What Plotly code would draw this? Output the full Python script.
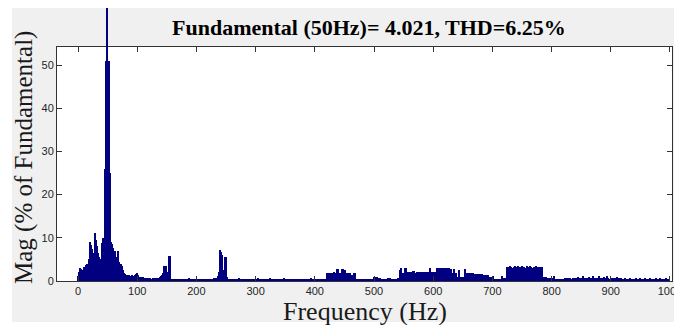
import plotly.graph_objects as go

# ---------------- data ----------------
freq_hz = list(range(0, 1000, 2))   # FFT bins (2 Hz spacing)
mag_pct = [
    1.2, 2.0, 3.0, 2.8, 2.5, 3.2, 3.3, 3.7, 4.0, 5.0,        # 0-18
    9.0, 8.3, 7.5, 6.5, 11.2, 9.5, 8.0, 6.5, 5.5, 5.0,       # 20-38
    8.8, 10.0, 7.0, 26.0, 51.0, 51.0, 51.0, 25.0, 9.0, 8.5,  # 40-58
    7.6, 7.0, 4.8, 5.5, 6.9, 4.5, 4.0, 3.5, 2.6, 1.8,        # 60-78
    1.6, 1.5, 1.4, 1.3, 1.2, 1.1, 1.3, 1.2, 1.4, 1.6,        # 80-98
    1.8, 1.4, 1.0, 0.9, 0.8, 1.0, 0.7, 0.8, 0.6, 0.7,        # 100-118
    0.6, 0.8, 0.5, 0.7, 0.6, 0.6, 0.5, 0.6, 0.8, 1.0,        # 120-138
    1.2, 1.5, 1.8, 3.5, 3.5, 2.2, 2.2, 5.8, 5.8, 0.5,        # 140-158
    0.4, 0.3, 0.4, 0.5, 0.3, 0.4, 0.3, 0.5, 0.4, 0.3,        # 160-178
    0.4, 0.5, 0.3, 0.4, 0.6, 0.4, 0.3, 0.4, 0.5, 0.3,        # 180-198
    0.3, 0.4, 0.5, 0.3, 0.4, 0.3, 0.5, 0.4, 0.3, 0.4,        # 200-218
    0.5, 0.4, 0.3, 0.5, 0.4, 0.6, 0.5, 0.8, 1.2, 2.0,        # 220-238
    7.2, 6.8, 6.0, 2.5, 5.5, 5.5, 1.0, 0.5, 0.4, 0.3,        # 240-258
    0.4, 0.3, 0.5, 0.4, 0.3, 0.4, 0.6, 0.4, 0.3, 0.4,        # 260-278
    0.5, 0.4, 0.3, 0.4, 0.5, 0.3, 0.4, 0.3, 0.5, 0.4,        # 280-298
    0.3, 0.4, 0.6, 0.5, 0.4, 0.3, 0.4, 0.5, 0.3, 0.4,        # 300-318
    0.5, 0.4, 0.6, 0.4, 0.3, 0.5, 0.4, 0.3, 0.4, 0.5,        # 320-338
    0.4, 0.3, 0.5, 0.4, 0.6, 0.4, 0.3, 0.4, 0.5, 0.4,        # 340-358
    0.3, 0.4, 0.5, 0.3, 0.4, 0.5, 0.4, 0.3, 0.4, 0.3,        # 360-378
    0.4, 0.5, 0.3, 0.4, 0.3, 0.5, 0.4, 0.6, 0.4, 0.3,        # 380-398
    0.4, 0.3, 0.4, 0.3, 0.4, 0.3, 0.3, 0.4, 0.3, 0.4,        # 400-418
    1.8, 1.8, 1.7, 1.8, 1.8, 1.9, 2.0, 1.8, 1.8, 2.8,        # 420-438
    2.8, 1.8, 1.8, 2.8, 2.8, 2.6, 2.6, 1.8, 1.8, 1.8,        # 440-458
    1.8, 1.4, 1.4, 1.8, 1.8, 0.3, 0.3, 0.4, 0.3, 0.3,        # 460-478
    0.4, 0.3, 0.3, 0.4, 0.3, 0.3, 0.4, 0.3, 0.3, 0.5,        # 480-498
    0.9, 0.9, 0.8, 0.9, 0.6, 0.6, 0.5, 0.4, 0.4, 0.5,        # 500-518
    0.4, 0.5, 0.8, 0.7, 0.8, 0.5, 0.4, 0.5, 0.4, 0.5,        # 520-538
    0.6, 0.4, 2.5, 2.9, 1.8, 1.8, 2.9, 3.1, 2.1, 2.1,        # 540-558
    2.1, 2.1, 2.1, 2.4, 2.4, 1.8, 2.1, 2.1, 2.1, 2.1,        # 560-578
    2.1, 2.1, 2.1, 2.1, 2.1, 2.1, 2.1, 3.1, 2.0, 2.0,        # 580-598
    2.0, 2.0, 2.0, 3.1, 3.1, 3.1, 3.1, 3.1, 3.1, 3.1,        # 600-618
    3.1, 3.1, 3.1, 3.1, 0.8, 2.8, 1.8, 1.8, 2.8, 1.8,        # 620-638
    1.0, 1.0, 2.5, 1.0, 1.0, 1.0, 1.0, 2.8, 1.8, 1.8,        # 640-658
    1.8, 1.8, 1.8, 1.8, 1.8, 1.6, 1.6, 1.6, 1.6, 1.6,        # 660-678
    1.6, 1.6, 1.3, 1.3, 1.3, 1.3, 1.5, 1.0, 1.0, 1.0,        # 680-698
    1.0, 1.2, 0.5, 0.5, 0.5, 0.5, 0.5, 0.5, 1.2, 0.6,        # 700-718
    0.6, 0.6, 3.3, 3.3, 3.3, 3.5, 3.3, 3.1, 3.3, 3.5,        # 720-738
    3.3, 3.1, 3.5, 3.3, 3.3, 3.5, 3.3, 3.3, 3.1, 3.5,        # 740-758
    3.3, 3.3, 3.5, 3.3, 3.1, 3.3, 3.3, 3.5, 3.3, 3.3,        # 760-778
    3.3, 3.3, 3.3, 1.0, 1.0, 1.0, 0.6, 0.6, 0.7, 0.6,        # 780-798
    0.5, 0.6, 1.2, 0.4, 0.3, 0.3, 0.3, 0.3, 0.3, 0.3,        # 800-818
    0.5, 0.6, 0.5, 0.7, 0.5, 0.6, 0.8, 0.5, 0.6, 0.5,        # 820-838
    0.7, 0.6, 1.0, 0.6, 0.8, 0.5, 0.6, 1.1, 0.7, 0.6,        # 840-858
    0.8, 0.6, 1.0, 0.7, 0.6, 1.2, 0.7, 0.6, 0.8, 0.6,        # 860-878
    1.1, 0.7, 0.6, 0.8, 1.0, 0.6, 0.7, 1.2, 0.6, 0.5,        # 880-898
    0.7, 0.6, 0.8, 0.5, 0.7, 1.0, 0.6, 0.5, 0.7, 0.6,        # 900-918
    0.5, 0.4, 0.6, 0.5, 0.4, 0.5, 0.6, 0.4, 0.5, 0.4,        # 920-938
    0.5, 0.6, 0.4, 0.5, 0.4, 0.6, 0.5, 0.4, 0.5, 0.6,        # 940-958
    0.4, 0.5, 0.4, 0.6, 0.5, 0.4, 0.5, 0.4, 0.6, 0.5,        # 960-978
    0.4, 0.5, 0.6, 0.4, 0.5, 0.4, 0.5, 0.6, 0.4, 0.5,        # 980-998
]
fund_hz = [50]
fund_pct = [100.0]

x_ticks = [0, 100, 200, 300, 400, 500, 600, 700, 800, 900, 1000]
y_ticks = [0, 10, 20, 30, 40, 50]
title_text = "Fundamental (50Hz)= 4.021, THD=6.25%"
x_label = "Frequency (Hz)"
y_label = "Mag (% of Fundamental)"

# ---------------- layout constants (pixels) ----------------
W, H = 674, 325
ML, MR, MT, MB = 57, 2, 8, 44
PW, PH = W - ML - MR, H - MT - MB
AX_TOP = 47                       # top of the axes box
ytop_frac = (H - MB - AX_TOP) / PH
Y_MAX = 54.17
X_RANGE = [-35.5, 1003.4]

def px_x(px):
    return (px - ML) / PW

def px_y(py):
    return (H - MB - py) / PH

NAVY = "#000080"
AXC = "#333333"
TICKFONT = dict(family="Liberation Sans, Arial, sans-serif", size=11, color="#262626")
SERIF = "Liberation Serif, Times New Roman, serif"

fig = go.Figure()
fig.add_trace(go.Bar(x=freq_hz, y=mag_pct, width=2.0,
                     marker=dict(color=NAVY, line=dict(width=0)),
                     xaxis="x", yaxis="y", showlegend=False))
fig.add_trace(go.Bar(x=fund_hz, y=fund_pct, width=2.6,
                     marker=dict(color=NAVY, line=dict(width=0)),
                     xaxis="x2", yaxis="y2", showlegend=False))

fig.update_layout(
    width=W, height=H,
    margin=dict(l=ML, r=MR, t=MT, b=MB, pad=0, autoexpand=False),
    paper_bgcolor="white",
    plot_bgcolor="rgba(0,0,0,0)",
    bargap=0,
    barmode="overlay",
    xaxis=dict(domain=[0, 1], anchor="y", range=X_RANGE, tickvals=x_ticks,
               ticks="inside", ticklen=5, tickcolor=AXC, tickwidth=1,
               showline=True, linecolor=AXC, linewidth=1, mirror="ticks",
               showgrid=False, zeroline=False, tickfont=TICKFONT,
               ticklabeloverflow="allow", automargin=False),
    yaxis=dict(domain=[0, ytop_frac], anchor="x", range=[0, Y_MAX], tickvals=y_ticks,
               ticks="inside", ticklen=5, tickcolor=AXC, tickwidth=1,
               showline=True, linecolor=AXC, linewidth=1, mirror="ticks",
               showgrid=False, zeroline=False, tickfont=TICKFONT, automargin=False),
    xaxis2=dict(domain=[0, 1], anchor="y2", range=X_RANGE, visible=False, matches="x"),
    yaxis2=dict(domain=[0, 1], anchor="x2", range=[0, Y_MAX / ytop_frac], visible=False),
    shapes=[
        dict(type="rect", xref="paper", yref="paper", layer="below",
             x0=px_x(12), x1=px_x(W + 5), y0=px_y(322), y1=px_y(8),
             fillcolor="#f0f0f0", line=dict(width=0)),
        dict(type="rect", xref="x domain", yref="y domain", layer="below",
             x0=0, x1=1, y0=0, y1=1, fillcolor="white", line=dict(width=0)),
    ],
    annotations=[
        dict(text="<b>" + title_text + "</b>", xref="paper", yref="paper",
             x=px_x(368.5), y=px_y(28), xanchor="center", yanchor="middle",
             showarrow=False, font=dict(family=SERIF, size=22, color="black")),
        dict(text=x_label, xref="paper", yref="paper",
             x=px_x(365), y=px_y(311), xanchor="center", yanchor="middle",
             showarrow=False, font=dict(family=SERIF, size=26, color="#1a1a1a")),
        dict(text=y_label, xref="paper", yref="paper", textangle=-90,
             x=px_x(24), y=px_y(158), xanchor="center", yanchor="middle",
             showarrow=False, font=dict(family=SERIF, size=25, color="#1a1a1a")),
    ],
)

fig.write_html("out.html")
